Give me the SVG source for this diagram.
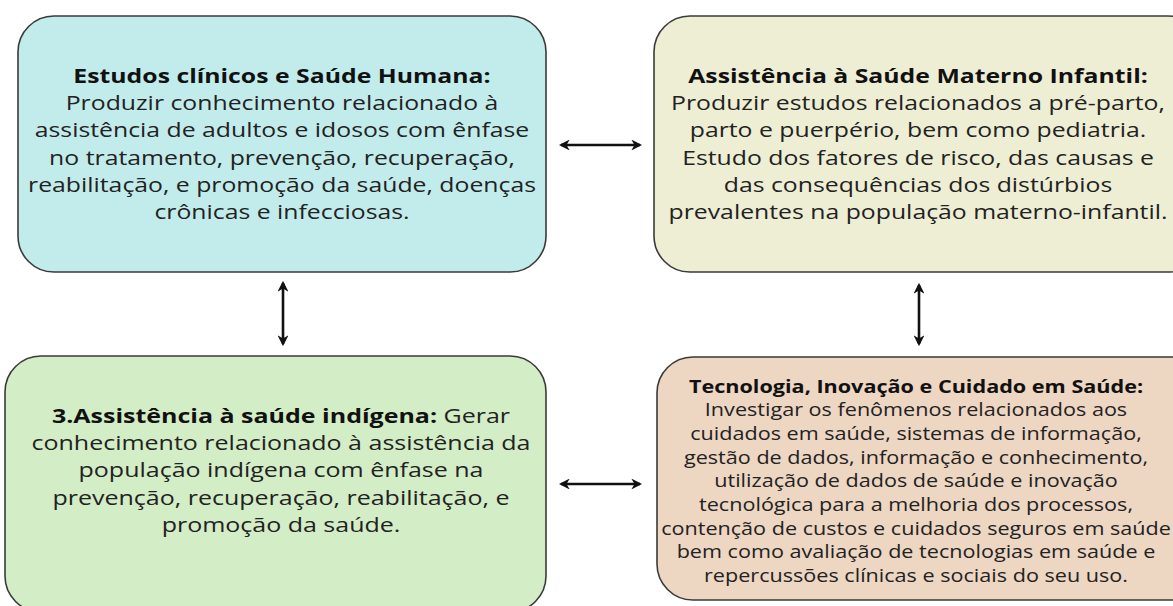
<svg xmlns="http://www.w3.org/2000/svg" width="1173" height="606" viewBox="0 0 1173 606">
<style>
.box{stroke:#3a3a3a;stroke-width:1.6}
.t{font-family:"Open Sans","Noto Sans","DejaVu Sans",sans-serif;fill:#222;text-anchor:middle}
.b{font-weight:bold;fill:#111}
.big{font-size:20px}
.small{font-size:18px}
.conn{stroke:#111;stroke-width:2.6;fill:none;marker-start:url(#ah);marker-end:url(#ah)}
</style>
<defs>
<marker id="ah" viewBox="0 0 10 10" refX="8" refY="5" markerWidth="4.2" markerHeight="4.2" orient="auto-start-reverse" markerUnits="strokeWidth">
<path d="M0,0 L10,5 L0,10 L3,5 Z" fill="#111"/>
</marker>
</defs>
<rect width="1173" height="606" fill="#fff"/>
<g id="node1">
<rect class="box" x="18" y="16" width="528" height="256" rx="36" fill="#c2ecec"/>
<text class="t big" transform="translate(282,0) scale(1.24,1)"><tspan class="b" x="0" y="83">Estudos clínicos e Saúde Humana:</tspan><tspan x="0" y="110">Produzir conhecimento relacionado à</tspan><tspan x="0" y="137.5">assistência de adultos e idosos com ênfase</tspan><tspan x="0" y="165">no tratamento, prevenção, recuperação,</tspan><tspan x="0" y="192">reabilitação, e promoção da saúde, doenças</tspan><tspan x="0" y="219.5">crônicas e infecciosas.</tspan></text>
</g>
<g id="node2">
<rect class="box" x="654" y="16" width="550" height="256" rx="36" fill="#eeeed5"/>
<text class="t big" transform="translate(918,0) scale(1.24,1)"><tspan class="b" x="0" y="83">Assistência à Saúde Materno Infantil:</tspan><tspan x="0" y="110">Produzir estudos relacionados a pré-parto,</tspan><tspan x="0" y="137.5">parto e puerpério, bem como pediatria.</tspan><tspan x="0" y="165">Estudo dos fatores de risco, das causas e</tspan><tspan x="0" y="192">das consequências dos distúrbios</tspan><tspan x="0" y="219.5">prevalentes na população materno-infantil.</tspan></text>
</g>
<g id="node3">
<rect class="box" x="5" y="356" width="541" height="256" rx="36" fill="#d3edc7"/>
<text class="t big" transform="translate(281,0) scale(1.25,1)"><tspan x="0" y="423"><tspan class="b">3.Assistência à saúde indígena:</tspan> Gerar</tspan><tspan x="0" y="450">conhecimento relacionado à assistência da</tspan><tspan x="0" y="477.5">população indígena com ênfase na</tspan><tspan x="0" y="505">prevenção, recuperação, reabilitação, e</tspan><tspan x="0" y="532">promoção da saúde.</tspan></text>
</g>
<g id="node4">
<rect class="box" x="657" y="357" width="550" height="243" rx="36" fill="#edd6c2"/>
<text class="t small" transform="translate(916,0) scale(1.2,1)"><tspan class="b" x="0" y="393">Tecnologia, Inovação e Cuidado em Saúde:</tspan><tspan x="0" y="416.5">Investigar os fenômenos relacionados aos</tspan><tspan x="0" y="440">cuidados em saúde, sistemas de informação,</tspan><tspan x="0" y="464">gestão de dados, informação e conhecimento,</tspan><tspan x="0" y="487.5">utilização de dados de saúde e inovação</tspan><tspan x="0" y="511">tecnológica para a melhoria dos processos,</tspan><tspan x="0" y="535">contenção de custos e cuidados seguros em saúde</tspan><tspan x="0" y="558.5">bem como avaliação de tecnologias em saúde e</tspan><tspan x="0" y="582">repercussões clínicas e sociais do seu uso.</tspan></text>
</g>
<g id="connectors">
<line class="conn" x1="561" y1="145" x2="640" y2="145"/>
<line class="conn" x1="561" y1="484" x2="640" y2="484"/>
<line class="conn" x1="283" y1="283" x2="283" y2="344"/>
<line class="conn" x1="919" y1="285" x2="919" y2="344"/>
</g>
</svg>
